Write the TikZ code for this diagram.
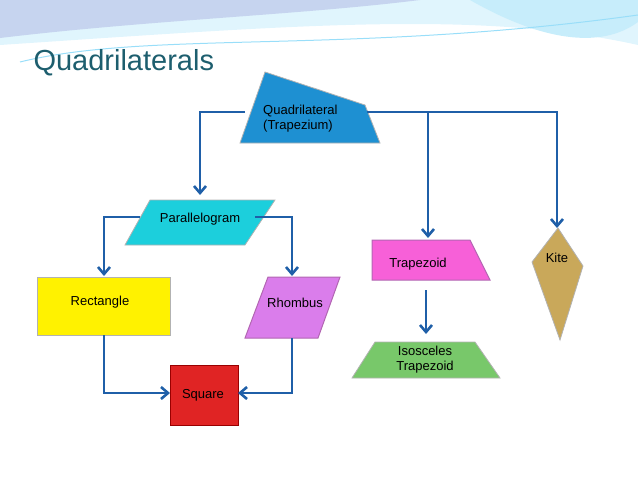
\documentclass[tikz,border=0pt]{standalone}
\usepackage{fontspec}
\setmainfont{Liberation Sans}
\usetikzlibrary{arrows.meta}
\definecolor{linkblue}{HTML}{1F5FA8}
\definecolor{titleteal}{HTML}{1D5E6E}
\definecolor{quadblue}{HTML}{1E90D2}
\definecolor{paracyan}{HTML}{1CCFDC}
\definecolor{rhombviolet}{HTML}{DA7DEB}
\definecolor{trappink}{HTML}{F760D8}
\definecolor{isosgreen}{HTML}{78C86A}
\definecolor{kitegold}{HTML}{C9A85A}
\definecolor{squarered}{HTML}{E02424}
\begin{document}
\begin{tikzpicture}
	[ x=1pt,y=-1pt,
		label/.style={font=\fontsize{13}{15}\selectfont,align=center,inner sep=1pt},
		shapeline/.style={draw=black!30,line width=0.8pt},
		arrowOut/.style={-{Straight Barb[length=7pt,width=12pt]},draw=linkblue,line width=2.6pt}]

	\useasboundingbox (0,0) rectangle (638,479);
	% background wave
	\fill[cyan!12!white] (0,0) -- (638,0) -- (638,45) .. controls (480,10) and (300,25) .. (0,45) -- cycle;
	\fill[cyan!50!blue!22!white] (0,0) -- (420,0) .. controls (300,15) and (150,20) .. (0,38) -- cycle;
	\fill[cyan!22!white] (470,0) -- (638,0) -- (638,22) .. controls (600,50) and (540,40) .. (470,0) -- cycle;
	\draw[cyan!40,line width=1pt] (20,62) .. controls (150,30) and (350,55) .. (638,15);

	\node[font=\fontsize{29}{33}\selectfont,text=titleteal,anchor=west] (title) at (30,63) {Quadrilaterals};

	% shapes
	\fill[quadblue,shapeline] (265,72) -- (365,105) -- (380,143) -- (240,143) -- cycle;
	\fill[paracyan,shapeline] (150,200) -- (275,200) -- (245,245) -- (125,245) -- cycle;
	\fill[yellow,shapeline] (37,277) rectangle (170,335);
	\fill[rhombviolet,draw=violet!60,line width=1pt] (268,277) -- (340,277) -- (318,338) -- (245,338) -- cycle;
	\fill[squarered,draw=red!60!black,line width=0.8pt] (170,365) rectangle (238,425);
	\fill[trappink,draw=violet!60,line width=1pt] (372,240) -- (470,240) -- (490,280) -- (372,280) -- cycle;
	\fill[isosgreen,shapeline] (375,342) -- (475,342) -- (500,378) -- (352,378) -- cycle;
	\fill[kitegold,shapeline] (558,228) -- (583,266) -- (560,340) -- (532,262) -- cycle;

	% texts
	\node[label,align=left,anchor=west] (quad) at (262,119) {Quadrilateral\\(Trapezium)};
	\node[label] (para) at (200,219) {Parallelogram};
	\node[label] (rect) at (100,302) {Rectangle};
	\node[label] (rhomb) at (295,303) {Rhombus};
	\node[label] (square) at (203,395) {Square};
	\node[label] (trap) at (418,264) {Trapezoid};
	\node[label] (isos) at (425,360) {Isosceles\\Trapezoid};
	\node[label] (kite) at (557,258) {Kite};

	% connection points
	\coordinate (quad out left) at (245,112);
	\coordinate (quad out right) at (367,112);
	\coordinate (para in) at (200,195);
	\coordinate (trap in) at (428,238);
	\coordinate (kite in) at (557,228);
	\coordinate (para out left) at (140,217);
	\coordinate (para out right) at (255,217);
	\coordinate (rect in) at (104,276);
	\coordinate (rhomb in) at (292,276);
	\coordinate (rect out) at (104,335);
	\coordinate (rhomb out) at (292,338);
	\coordinate (square in left) at (170,393);
	\coordinate (square in right) at (238,393);
	\coordinate (trap out) at (426,290);
	\coordinate (isos in) at (426,334);

	\draw[arrowOut] (quad out left) -| (para in);
	\draw[arrowOut] (quad out right) -| (kite in);
	\draw[arrowOut] (trap in |- quad out right) -- (trap in);
	\draw[arrowOut] (para out left) -| (rect in);
	\draw[arrowOut] (para out right) -| (rhomb in);
	\draw[arrowOut] (rect out) |- (square in left);
	\draw[arrowOut] (rhomb out) |- (square in right);
	\draw[arrowOut] (trap out) -- (isos in);
\end{tikzpicture}
\end{document}
